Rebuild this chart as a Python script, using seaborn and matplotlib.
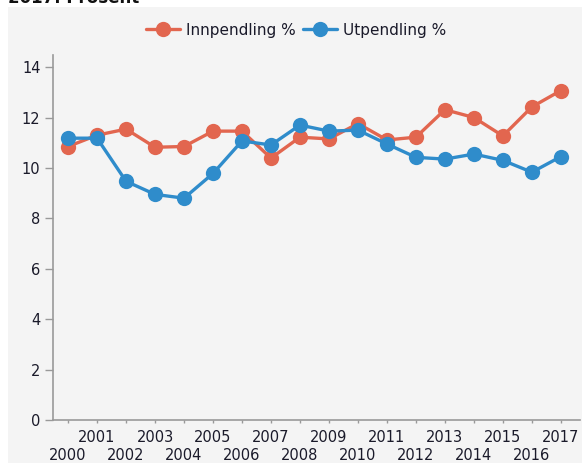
import matplotlib
matplotlib.use("Agg")
import matplotlib.pyplot as plt
import matplotlib.patches as mpatches
import seaborn as sns
import pandas as pd
import numpy as np

# ==========================================================
# DATA
# ==========================================================

years = list(range(2000, 2018))

innpendling = [10.85, 11.3, 11.54, 10.82, 10.85, 11.46, 11.46, 10.39, 11.22,
               11.15, 11.76, 11.11, 11.22, 12.31, 12.0, 11.27, 12.42, 13.07]
utpendling = [11.18, 11.18, 9.47, 8.95, 8.8, 9.78, 11.07, 10.91, 11.7,
              11.46, 11.5, 10.95, 10.42, 10.35, 10.55, 10.3, 9.83, 10.45]

series_names = ["Innpendling %", "Utpendling %"]
colors = ["#e2664f", "#2f8ccb"]

df = pd.DataFrame({
    "idx": list(range(len(years))) * 2,
    "verdi": innpendling + utpendling,
    "serie": [series_names[0]] * len(years) + [series_names[1]] * len(years),
})

# ==========================================================
# FIGURE
# ==========================================================

sns.set_style("white")
plt.rcParams["font.family"] = ["DejaVu Sans"]

W, H = 582, 463
fig = plt.figure(figsize=(W / 100, H / 100), dpi=100, facecolor="white")

# grey panel behind the chart
panel = mpatches.Rectangle((8 / W, 0), 1, 1 - 7 / H,
                           transform=fig.transFigure,
                           facecolor="#f4f4f4", edgecolor="none", zorder=-10)
fig.add_artist(panel)

# title cut off at the top
fig.text(8 / W, 1 - 3 / H, "2017. Prosent", fontsize=12, fontweight="bold",
         va="baseline", ha="left", color="#111111")

left, bottom, top = 53, 420, 55
ax = fig.add_axes([left / W, 1 - bottom / H, (580 - left) / W, (bottom - top) / H])
ax.set_facecolor("none")
ax.set_zorder(1)

sns.lineplot(
    data=df, x="idx", y="verdi", hue="serie",
    palette=colors, marker="o", markersize=11, markeredgewidth=0,
    linewidth=2.4, ax=ax,
)

ax.set_ylim(0, 14.48)
ax.set_yticks([0, 2, 4, 6, 8, 10, 12, 14])

# staggered year labels: odd years on the first row, even years on the second
odd_pos = [i for i, y in enumerate(years) if y % 2 == 1]
even_pos = [i for i, y in enumerate(years) if y % 2 == 0]
ax.set_xticks(odd_pos, [str(years[i]) for i in odd_pos])
ax.set_xticks(even_pos, [str(years[i]) for i in even_pos], minor=True)

ax.tick_params(axis="x", which="both", bottom=True, length=2, color="#999999",
               width=1, direction="out", labelsize=10.5, labelcolor="#1a1a2a")
ax.tick_params(axis="x", which="major", pad=5)
ax.tick_params(axis="x", which="minor", pad=18)
ax.tick_params(axis="y", left=True, labelsize=10.5, labelcolor="#1a1a2a",
               length=6, color="#999999", width=1, pad=3, direction="out")

ax.set_xlabel("")
ax.set_ylabel("")

for side in ["top", "right"]:
    ax.spines[side].set_visible(False)
for side in ["left", "bottom"]:
    ax.spines[side].set_color("#999999")
    ax.spines[side].set_linewidth(1.2)
ax.set_xlim(-0.52, 17.66)

handles, lbls = ax.get_legend_handles_labels()
ax.legend(handles, lbls, loc="center", bbox_to_anchor=(296 / W, 1 - 30 / H),
          bbox_transform=fig.transFigure, ncol=2, frameon=False,
          fontsize=11, handlelength=2.2, columnspacing=0.5,
          handletextpad=0.4, labelcolor="#1a1a2a")

plt.savefig("out.png", dpi=100, facecolor="white")
